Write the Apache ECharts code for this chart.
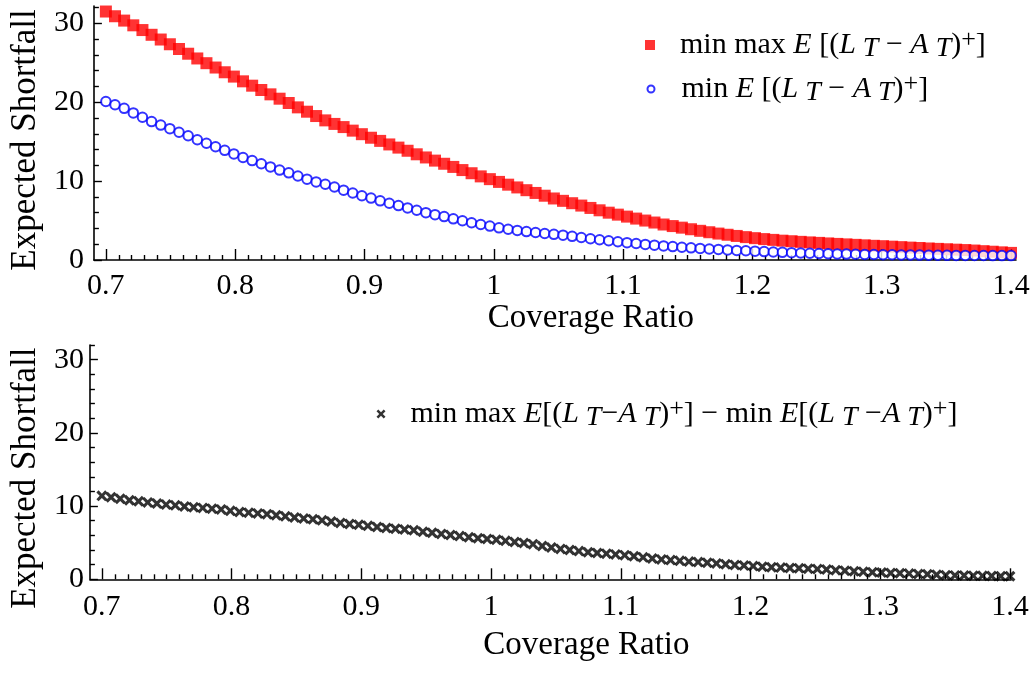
<!DOCTYPE html>
<html>
<head>
<meta charset="utf-8">
<script src="https://cdn.jsdelivr.net/npm/echarts@6/dist/echarts.min.js"></script>
<style>
  html, body { margin: 0; padding: 0; background: #ffffff; }
  #chart { width: 1035px; height: 675px; }
</style>
</head>
<body>
<div id="chart"></div>
<script>
// Coverage-ratio sample grid: 100 evenly spaced points from 0.7 to 1.4
const coverageFirst = 0.7;
const coverageLast = 1.4;

// Expected shortfall, robust (min max) hedge
const minMaxES = [
  31.5, 30.9, 30.35, 29.75, 29.15, 28.55, 27.95, 27.35, 26.75, 26.15,
  25.55, 24.95, 24.4, 23.8, 23.25, 22.65, 22.1, 21.55, 21.0, 20.45,
  19.9, 19.35, 18.8, 18.25, 17.7, 17.25, 16.85, 16.4, 15.95, 15.5,
  15.1, 14.65, 14.25, 13.85, 13.4, 13.0, 12.6, 12.2, 11.8, 11.4,
  11.0, 10.6, 10.25, 9.9, 9.55, 9.2, 8.85, 8.5, 8.15, 7.8,
  7.5, 7.2, 6.9, 6.6, 6.3, 6.0, 5.75, 5.5, 5.25, 5.0,
  4.75, 4.5, 4.3, 4.1, 3.9, 3.7, 3.52, 3.35, 3.2, 3.05,
  2.9, 2.77, 2.65, 2.55, 2.45, 2.38, 2.3, 2.23, 2.17, 2.1,
  2.04, 1.98, 1.92, 1.86, 1.8, 1.75, 1.69, 1.63, 1.57, 1.52,
  1.46, 1.41, 1.36, 1.31, 1.26, 1.2, 1.12, 1.05, 0.97, 0.9
];

// Expected shortfall, plain (min) hedge
const minES = [
  20.1, 19.68, 19.23, 18.65, 18.1, 17.55, 17.1, 16.65, 16.2, 15.75,
  15.25, 14.8, 14.35, 13.9, 13.45, 13.0, 12.6, 12.2, 11.8, 11.4,
  11.05, 10.65, 10.25, 9.9, 9.6, 9.25, 8.85, 8.5, 8.15, 7.85,
  7.5, 7.2, 6.9, 6.6, 6.3, 6.0, 5.75, 5.5, 5.22, 4.97,
  4.72, 4.5, 4.3, 4.08, 3.9, 3.75, 3.6, 3.48, 3.36, 3.25,
  3.15, 3.0, 2.85, 2.7, 2.57, 2.44, 2.32, 2.2, 2.09, 1.98,
  1.88, 1.79, 1.7, 1.62, 1.54, 1.47, 1.4, 1.34, 1.28, 1.22,
  1.17, 1.12, 1.07, 1.02, 0.97, 0.93, 0.89, 0.86, 0.83, 0.8,
  0.77, 0.75, 0.73, 0.71, 0.69, 0.67, 0.66, 0.64, 0.63, 0.62,
  0.61, 0.6, 0.59, 0.58, 0.58, 0.57, 0.57, 0.56, 0.56, 0.56
];

// Difference between the two shortfalls
const gapES = [
  11.4, 11.2, 11.0, 10.8, 10.65, 10.5, 10.35, 10.2, 10.1, 9.95,
  9.85, 9.75, 9.65, 9.55, 9.35, 9.2, 9.1, 9.0, 8.9, 8.75,
  8.6, 8.45, 8.3, 8.2, 8.05, 7.9, 7.7, 7.55, 7.45, 7.3,
  7.15, 7.0, 6.9, 6.8, 6.7, 6.5, 6.35, 6.2, 6.05, 5.9,
  5.75, 5.6, 5.5, 5.4, 5.25, 5.1, 4.95, 4.8, 4.55, 4.35,
  4.15, 4.0, 3.85, 3.7, 3.6, 3.5, 3.4, 3.3, 3.15, 3.0,
  2.85, 2.72, 2.62, 2.52, 2.42, 2.35, 2.27, 2.17, 2.05, 1.95,
  1.88, 1.8, 1.72, 1.65, 1.6, 1.55, 1.5, 1.45, 1.39, 1.33,
  1.25, 1.16, 1.1, 1.03, 0.97, 0.92, 0.86, 0.82, 0.78, 0.73,
  0.68, 0.62, 0.56, 0.53, 0.51, 0.49, 0.47, 0.45, 0.43, 0.41
];

// Axis tick labels
const xTickLabels = [0.7, 0.8, 0.9, 1, 1.1, 1.2, 1.3, 1.4];
const yTickLabels = [0, 10, 20, 30];

// Series names
const NAME_MINMAX = 'min max E[(L_T - A_T)+]';
const NAME_MIN = 'min E[(L_T - A_T)+]';
const NAME_GAP = 'min max E[(L_T - A_T)+] - min E[(L_T - A_T)+]';

const nPts = minMaxES.length;
const coverage = minMaxES.map((_, i) =>
  +(coverageFirst + (coverageLast - coverageFirst) * i / (nPts - 1)).toFixed(6));
const pairs = (ys) => ys.map((y, i) => [coverage[i], y]);

// Minor ticks: every 0.01 on x, every 2 on y
const xMinor = [];
for (let k = 70; k <= 140; k++) if (k % 10 !== 0) xMinor.push(k / 100);
const yMinor = [];
for (let k = 2; k <= 32; k += 2) if (k % 10 !== 0) yMinor.push(k);

const SERIF = '"Liberation Serif", "Times New Roman", serif';
const BLACK = '#000000';

function xAxisPair(gridIndex, min, max, labelMargin, nameGap) {
  const base = {
    type: 'value', gridIndex, min, max, position: 'bottom',
    splitLine: { show: false }
  };
  return [
    Object.assign({}, base, {
      axisLine: { show: true, onZero: false, lineStyle: { color: BLACK, width: 1.6 } },
      axisTick: { show: true, inside: true, length: 11, customValues: xTickLabels,
                  lineStyle: { color: BLACK, width: 1.4 } },
      axisLabel: { show: true, customValues: xTickLabels, margin: labelMargin,
                   color: BLACK, fontFamily: SERIF, fontSize: 30,
                   formatter: (v) => String(+(+v).toFixed(1)) },
      name: 'Coverage Ratio', nameLocation: 'middle', nameGap: nameGap,
      nameTextStyle: { color: BLACK, fontFamily: SERIF, fontSize: 33, padding: [0, 0, 0, 72] }
    }),
    Object.assign({}, base, {
      axisLine: { show: false },
      axisTick: { show: true, inside: true, length: 5, customValues: xMinor,
                  lineStyle: { color: BLACK, width: 1.4 } },
      axisLabel: { show: false }
    })
  ];
}

function yAxisPair(gridIndex, max, labelMargin, nameGap, shiftDown) {
  const base = {
    type: 'value', gridIndex, min: 0, max, position: 'left',
    splitLine: { show: false }
  };
  return [
    Object.assign({}, base, {
      axisLine: { show: true, onZero: false, lineStyle: { color: BLACK, width: 1.6 } },
      axisTick: { show: true, inside: true, length: 8, customValues: yTickLabels,
                  lineStyle: { color: BLACK, width: 1.4 } },
      axisLabel: { show: true, customValues: yTickLabels, margin: labelMargin,
                   color: BLACK, fontFamily: SERIF, fontSize: 30 },
      name: 'Expected Shortfall', nameLocation: 'middle', nameGap: nameGap,
      nameTextStyle: { color: BLACK, fontFamily: SERIF, fontSize: 35,
                       padding: [0, shiftDown * 2, 0, 0] }
    }),
    Object.assign({}, base, {
      axisLine: { show: false },
      axisTick: { show: true, inside: true, length: 5, customValues: yMinor,
                  lineStyle: { color: BLACK, width: 1.4 } },
      axisLabel: { show: false }
    })
  ];
}

// Rich-text styles for the math in the legends; lead sets the gap after the icon
function mathRich(lead) {
  return {
    g: { width: lead },
    n: { fontFamily: SERIF, fontSize: 30, lineHeight: 36, color: BLACK, verticalAlign: 'middle' },
    i: { fontFamily: SERIF, fontSize: 30, fontStyle: 'italic', lineHeight: 36, color: BLACK, verticalAlign: 'middle' },
    s: { fontFamily: SERIF, fontSize: 28, fontStyle: 'italic', lineHeight: 10, color: BLACK, verticalAlign: 'bottom' },
    p: { fontFamily: SERIF, fontSize: 26, lineHeight: 18, color: BLACK, verticalAlign: 'top' }
  };
}
const legendText = {};
legendText[NAME_MINMAX] = '{g|}{n|min max }{i|E}{n| [(}{i|L}{s| T}{n| \u2212 }{i|A}{s| T}{n|)}{p|+}{n|]}';
legendText[NAME_MIN] = '{g|}{n|min }{i|E}{n| [(}{i|L}{s| T}{n| \u2212 }{i|A}{s| T}{n|)}{p|+}{n|]}';
legendText[NAME_GAP] = '{g|}{n|min max }{i|E}{n|[(}{i|L}{s| T}{n|\u2212}{i|A}{s| T}{n|)}{p|+}{n|] \u2212 min }{i|E}{n|[(}{i|L}{s| T}{n| \u2212}{i|A}{s| T}{n|)}{p|+}{n|]}';

const crossPath = 'path://M0,2 L2,0 L5,3 L8,0 L10,2 L7,5 L10,8 L8,10 L5,7 L2,10 L0,8 L3,5 Z';

function legendBlock(left, top, size, lead, item) {
  return {
    orient: 'vertical', left, top, padding: 0,
    itemWidth: size, itemHeight: size, selectedMode: false,
    formatter: (name) => legendText[name],
    textStyle: { rich: mathRich(lead) },
    data: [item]
  };
}

const chart = echarts.init(document.getElementById('chart'), null, { renderer: 'canvas' });

chart.setOption({
  animation: false,
  backgroundColor: '#ffffff',
  grid: [
    { left: 92, top: 6, width: 924, height: 254 },
    { left: 88, top: 345, width: 923, height: 234.3 }
  ],
  xAxis: [
    ...xAxisPair(0, 0.69074, 1.40386, 11, 20),
    ...xAxisPair(1, 0.69077, 1.4008, 13, 50)
  ],
  yAxis: [
    ...yAxisPair(0, 32.2, 10, 47, 7),
    ...yAxisPair(1, 32, 6, 44, 16)
  ],
  legend: [
    legendBlock(645, 27, 10, 20,
      { name: NAME_MINMAX, icon: 'rect', itemStyle: { color: '#ff0000' } }),
    legendBlock(646.5, 71, 7, 22,
      { name: NAME_MIN, icon: 'emptyCircle',
        itemStyle: { color: '#0000ff', borderColor: '#0000ff', borderWidth: 1.6 } }),
    legendBlock(376.5, 396, 9, 20,
      { name: NAME_GAP, icon: crossPath, itemStyle: { color: BLACK } })
  ],
  series: [
    {
      name: NAME_MINMAX, type: 'scatter', xAxisIndex: 0, yAxisIndex: 0,
      symbol: 'rect', symbolSize: 12, clip: false,
      itemStyle: { color: '#ff0000' },
      data: pairs(minMaxES)
    },
    {
      name: NAME_MIN, type: 'scatter', xAxisIndex: 0, yAxisIndex: 0,
      symbol: 'emptyCircle', symbolSize: 9.5, clip: false,
      itemStyle: { color: '#0000ff', borderWidth: 1.8 },
      data: pairs(minES)
    },
    {
      name: NAME_GAP, type: 'scatter', xAxisIndex: 2, yAxisIndex: 2,
      symbol: crossPath, symbolSize: 11, clip: false,
      itemStyle: { color: BLACK },
      data: pairs(gapES)
    }
  ]
});
</script>
</body>
</html>
